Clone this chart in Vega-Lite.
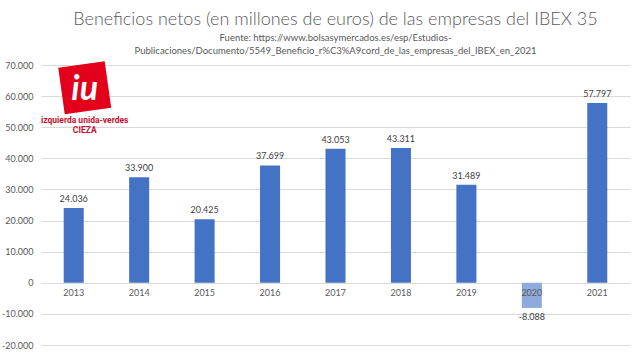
{
  "$schema": "https://vega.github.io/schema/vega-lite/v6.json",
  "width": 589,
  "height": 280,
  "autosize": {"type": "none"},
  "padding": {"left": 41, "top": 65, "right": 10, "bottom": 11},
  "background": "white",
  "config": {
    "locale": {"number": {"decimal": ",", "thousands": ".", "grouping": [3], "currency": ["", " €"], "minus": "-"}},
    "view": {"stroke": null},
    "font": "Lato"
  },
  "title": {
    "text": "Beneficios netos (en millones de euros) de las empresas del IBEX 35",
    "subtitle": ["Fuente: https://www.bolsasymercados.es/esp/Estudios-", "Publicaciones/Documento/5549_Beneficio_r%C3%A9cord_de_las_empresas_del_IBEX_en_2021"],
    "anchor": "middle",
    "frame": "group",
    "fontSize": 18,
    "fontWeight": 300,
    "color": "#595959",
    "subtitleFontSize": 9.5,
    "subtitleColor": "#595959",
    "subtitlePadding": 4,
    "subtitleLineHeight": 13,
    "offset": 6
  },
  "datasets": {
    "bars": [
      {"year": "2013", "value": 24036},
      {"year": "2014", "value": 33900},
      {"year": "2015", "value": 20425},
      {"year": "2016", "value": 37699},
      {"year": "2017", "value": 43053},
      {"year": "2018", "value": 43311},
      {"year": "2019", "value": 31489},
      {"year": "2020", "value": -8088},
      {"year": "2021", "value": 57797}
    ],
    "logo": [
      {"year": "2013", "value": 62700, "label": "iu"}
    ],
    "logotext": [
      {"year": "2013", "value": 52400, "label": "izquierda unida-verdes"},
      {"year": "2013", "value": 49100, "label": "CIEZA"}
    ]
  },
  "encoding": {
    "x": {"field": "year", "type": "nominal", "sort": null,
      "scale": {"paddingInner": 0.694, "paddingOuter": 0.347},
      "axis": null},
    "y": {"field": "value", "type": "quantitative",
      "scale": {"domain": [-20000, 70000], "nice": false},
      "axis": {"values": [-20000, -10000, 0, 10000, 20000, 30000, 40000, 50000, 60000, 70000],
        "format": ",.0f", "domain": false, "ticks": false, "labelFontSize": 9, "labelColor": "#595959",
        "labelPadding": 8, "gridColor": "#d9d9d9", "title": null}}
  },
  "layer": [
    {
      "data": {"name": "bars"},
      "mark": {"type": "bar"},
      "encoding": {
        "color": {"condition": {"test": "datum.value < 0", "value": "#8faadc"}, "value": "#4472c4"}
      }
    },
    {
      "data": {"name": "bars"},
      "mark": {"type": "text", "fontSize": 9, "color": "#404040", "baseline": "bottom", "dy": -4},
      "transform": [{"filter": "datum.value >= 0"}],
      "encoding": {"text": {"field": "value", "type": "quantitative", "format": ",.0f"}}
    },
    {
      "data": {"name": "bars"},
      "mark": {"type": "text", "fontSize": 9, "color": "#404040", "baseline": "top", "dy": 5},
      "transform": [{"filter": "datum.value < 0"}],
      "encoding": {"text": {"field": "value", "type": "quantitative", "format": ",.0f"}}
    },
    {
      "data": {"name": "bars"},
      "mark": {"type": "text", "fontSize": 9, "color": "#595959", "baseline": "top", "dy": 6},
      "encoding": {"y": {"datum": 0}, "text": {"field": "year"}}
    },
    {
      "data": {"name": "logo"},
      "mark": {"type": "point", "shape": "square", "filled": true, "color": "#e2001a", "opacity": 1, "size": 2200, "angle": -8},
      "encoding": {"xOffset": {"value": 21}}
    },
    {
      "data": {"name": "logo"},
      "mark": {"type": "text", "fontSize": 34, "fontWeight": "bold", "fontStyle": "italic", "color": "white", "baseline": "middle", "dy": 2, "dx": 11},
      "encoding": {"text": {"field": "label"}}
    },
    {
      "data": {"name": "logotext"},
      "mark": {"type": "text", "fontSize": 8.5, "fontWeight": "bold", "color": "#c8102e", "font": "Roboto", "dx": 11},
      "encoding": {"text": {"field": "label"}}
    }
  ]
}
